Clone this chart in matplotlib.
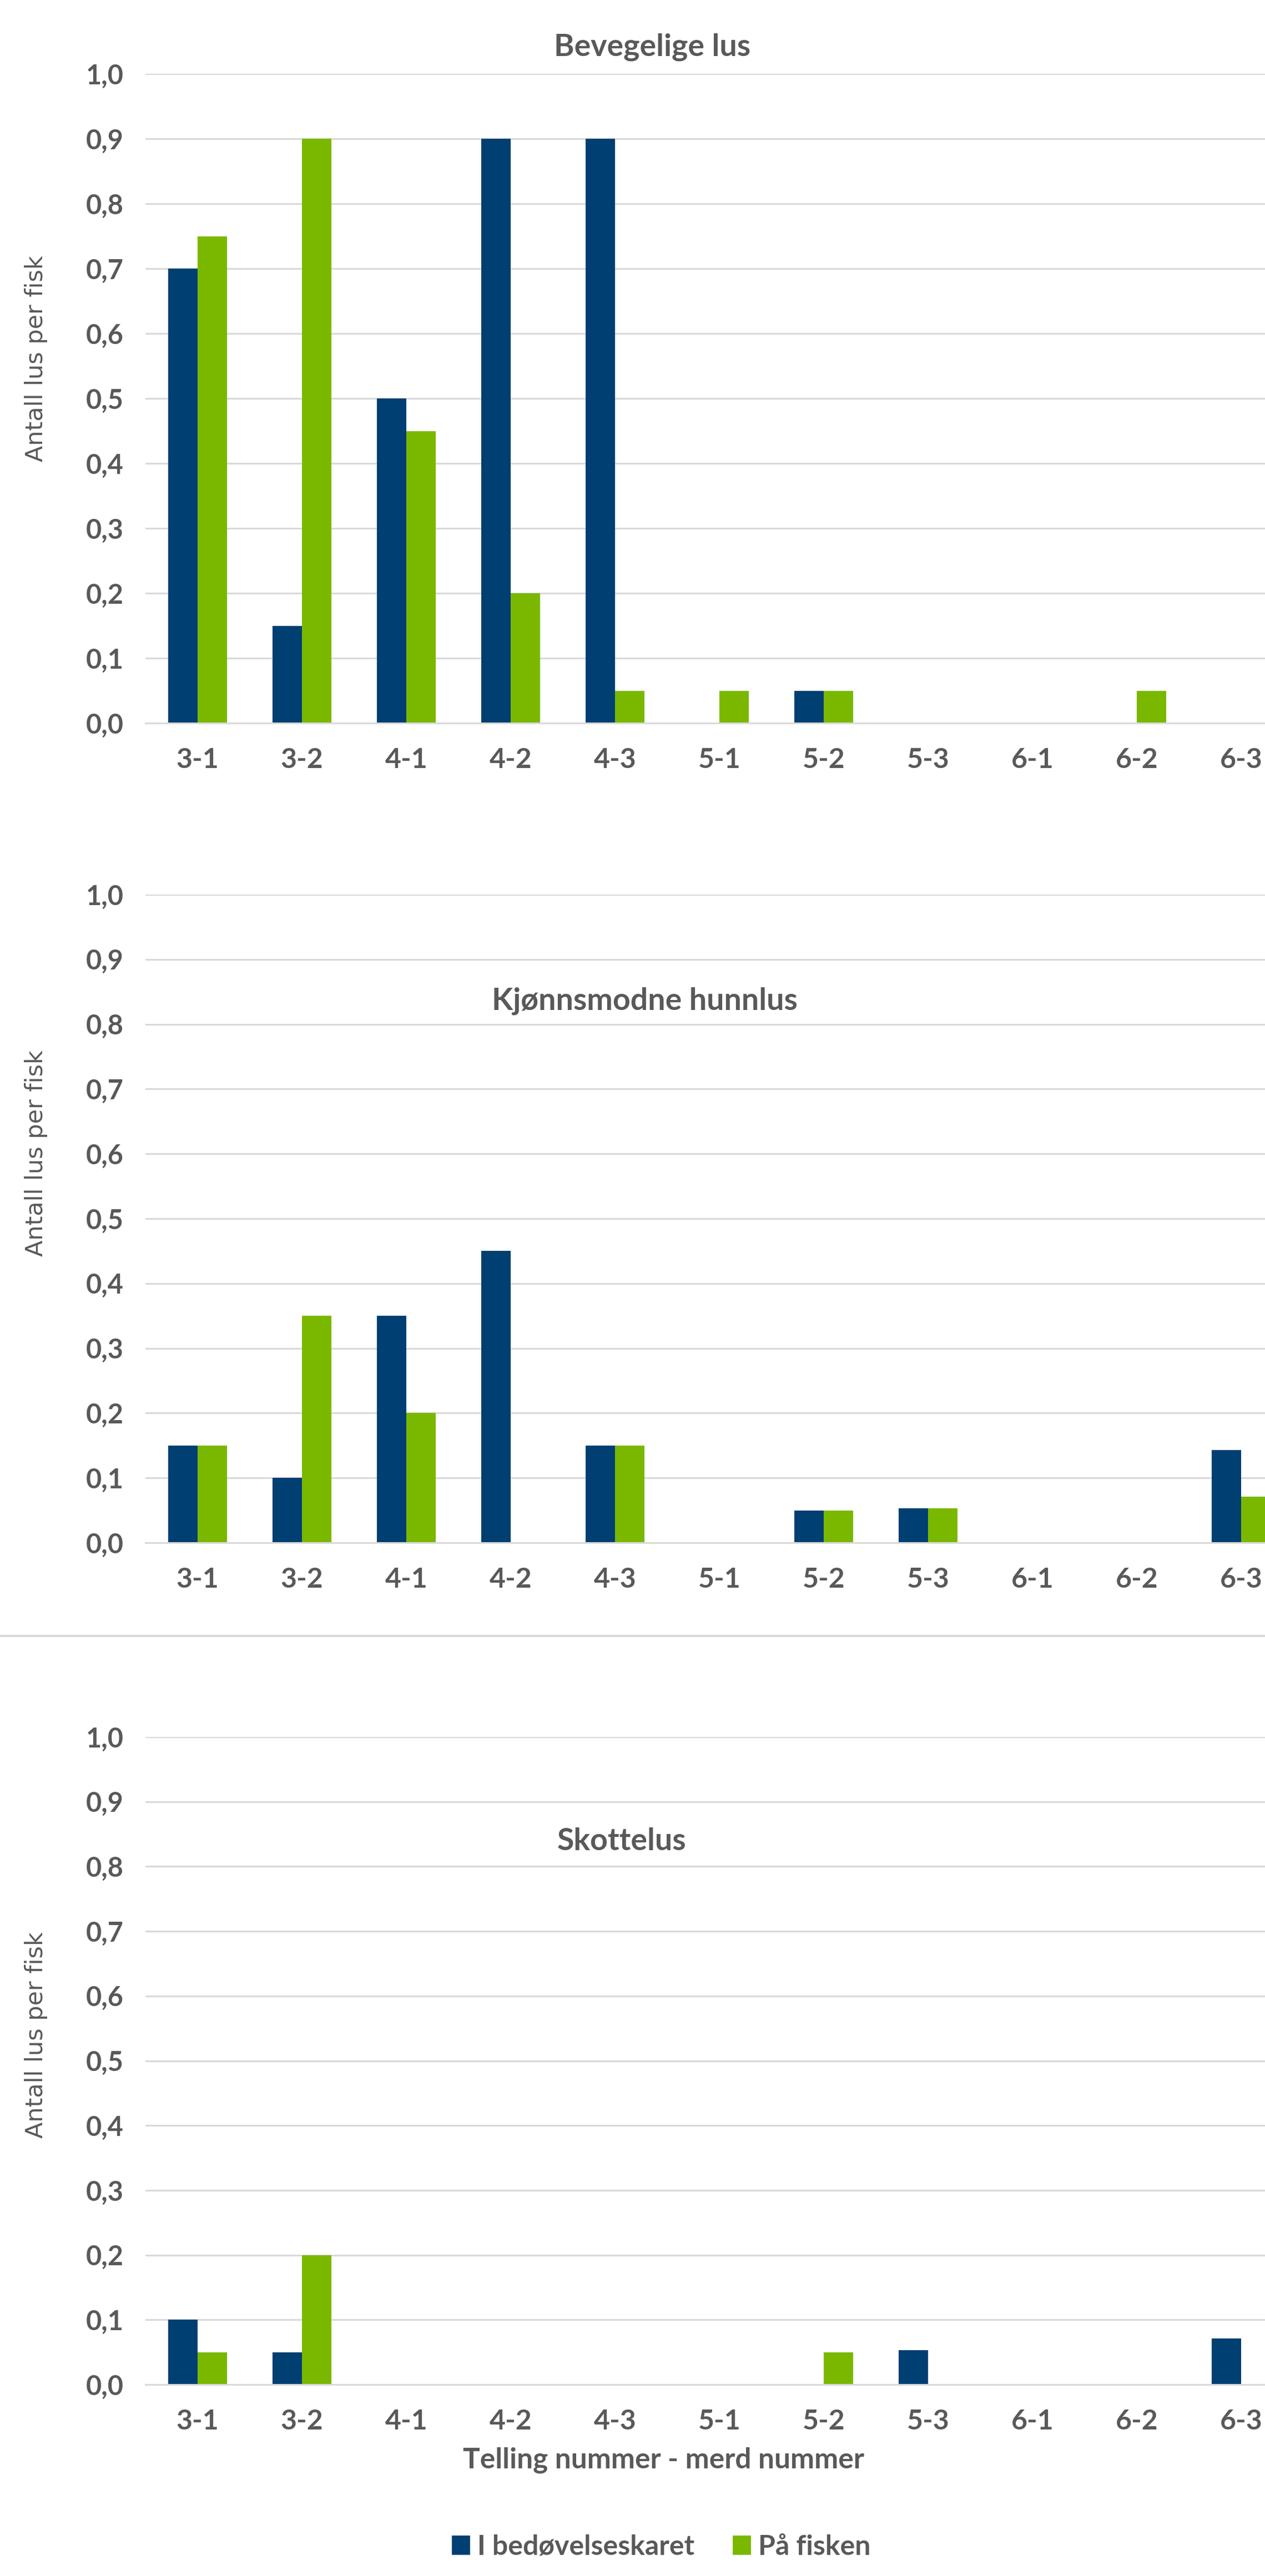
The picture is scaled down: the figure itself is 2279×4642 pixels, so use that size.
import matplotlib
matplotlib.use("Agg")
import matplotlib.pyplot as plt
import numpy as np
from matplotlib.lines import Line2D
from matplotlib.patches import Patch

categories = ["3-1", "3-2", "4-1", "4-2", "4-3", "5-1", "5-2", "5-3", "6-1", "6-2", "6-3"]

# Bevegelige lus
bev_kar = [0.70, 0.15, 0.50, 0.90, 0.90, 0.00, 0.05, 0.00, 0.00, 0.00, 0.00]
bev_fisk = [0.75, 0.90, 0.45, 0.20, 0.05, 0.05, 0.05, 0.00, 0.00, 0.05, 0.00]

# Kjønnsmodne hunnlus
hunn_kar = [0.15, 0.10, 0.35, 0.45, 0.15, 0.00, 0.05, 0.053, 0.00, 0.00, 0.143]
hunn_fisk = [0.15, 0.35, 0.20, 0.00, 0.15, 0.00, 0.05, 0.053, 0.00, 0.00, 0.071]

# Skottelus
skot_kar = [0.10, 0.05, 0.00, 0.00, 0.00, 0.00, 0.00, 0.053, 0.00, 0.00, 0.071]
skot_fisk = [0.05, 0.20, 0.00, 0.00, 0.00, 0.00, 0.05, 0.00, 0.00, 0.00, 0.00]

titles = ["Bevegelige lus", "Kjønnsmodne hunnlus", "Skottelus"]
series_names = ["I bedøvelseskaret", "På fisken"]

BLUE = "#003F72"
GREEN = "#7AB800"
GREY = "#595959"
GRID = "#D9D9D9"
FONT = "Lato"

W, H = 2279, 4642
fig = plt.figure(figsize=(W / 200, H / 200), dpi=200)

def fx(px):
    return px / W

def fy(px):
    return 1 - px / H

ax_left = 262
ax_width = 11 * 188
# (top px, bottom px) of each plot area
boxes = [(133, 1303), (1612, 2780), (3130, 4297)]
ylabel_y = [646, 2078, 3667]
title_pos = [(1175, 85), (1161, 1804), (1120, 3318)]

data = [(bev_kar, bev_fisk), (hunn_kar, hunn_fisk), (skot_kar, skot_fisk)]
x = np.arange(len(categories))
bw = 0.282

for i, ((top, bot), (kar, fisk)) in enumerate(zip(boxes, data)):
    ax = fig.add_axes([fx(ax_left), fy(bot), ax_width / W, (bot - top) / H])
    ax.bar(x - bw / 2, kar, width=bw, color=BLUE, zorder=3)
    ax.bar(x + bw / 2, fisk, width=bw, color=GREEN, zorder=3)
    ax.set_xlim(-0.5, len(categories) - 0.5)
    ax.set_ylim(0, 1.0)
    ax.set_yticks(np.arange(0, 1.01, 0.1))
    ax.set_yticklabels([f"{v:.1f}".replace(".", ",") for v in np.arange(0, 1.01, 0.1)])
    ax.set_xticks(x)
    ax.set_xticklabels(categories)
    ax.yaxis.grid(True, color=GRID, lw=1.1, zorder=0)
    for s in ["top", "right", "left"]:
        ax.spines[s].set_visible(False)
    ax.spines["bottom"].set_color(GRID)
    ax.spines["bottom"].set_linewidth(1.1)
    ax.spines["bottom"].set_zorder(4)
    ax.tick_params(axis="y", length=0, pad=14, labelsize=17.5, labelcolor=GREY)
    ax.tick_params(axis="x", length=0, pad=16, labelsize=18, labelcolor=GREY)
    for lab in ax.get_xticklabels() + ax.get_yticklabels():
        lab.set_fontfamily(FONT)
        lab.set_fontweight("bold")

    fig.text(fx(65), fy(ylabel_y[i]), "Antall lus per fisk", rotation=90,
             ha="center", va="center", fontsize=15.5, color=GREY, family="DejaVu Sans")
    tx, ty = title_pos[i]
    fig.text(fx(tx), fy(ty), titles[i], ha="center", va="center", fontsize=20,
             color=GREY, family=FONT, fontweight="bold")

# separator between 2nd and 3rd chart
fig.add_artist(Line2D([0, 1], [fy(2948), fy(2948)], color=GRID, lw=1.4))

fig.text(fx(1195), fy(4433), "Telling nummer - merd nummer", ha="center", va="center",
         fontsize=18.5, color=GREY, family=FONT, fontweight="bold")

handles = [Patch(color=BLUE), Patch(color=GREEN)]
leg = fig.legend(handles, series_names, loc="center", bbox_to_anchor=(fx(1192), fy(4589)),
                 ncol=2, frameon=False, handlelength=0.6, handleheight=0.6,
                 handletextpad=0.3, columnspacing=1.4,
                 prop={"family": FONT, "weight": "bold", "size": 18})
for t in leg.get_texts():
    t.set_color(GREY)

fig.savefig("out.png", dpi=200)
